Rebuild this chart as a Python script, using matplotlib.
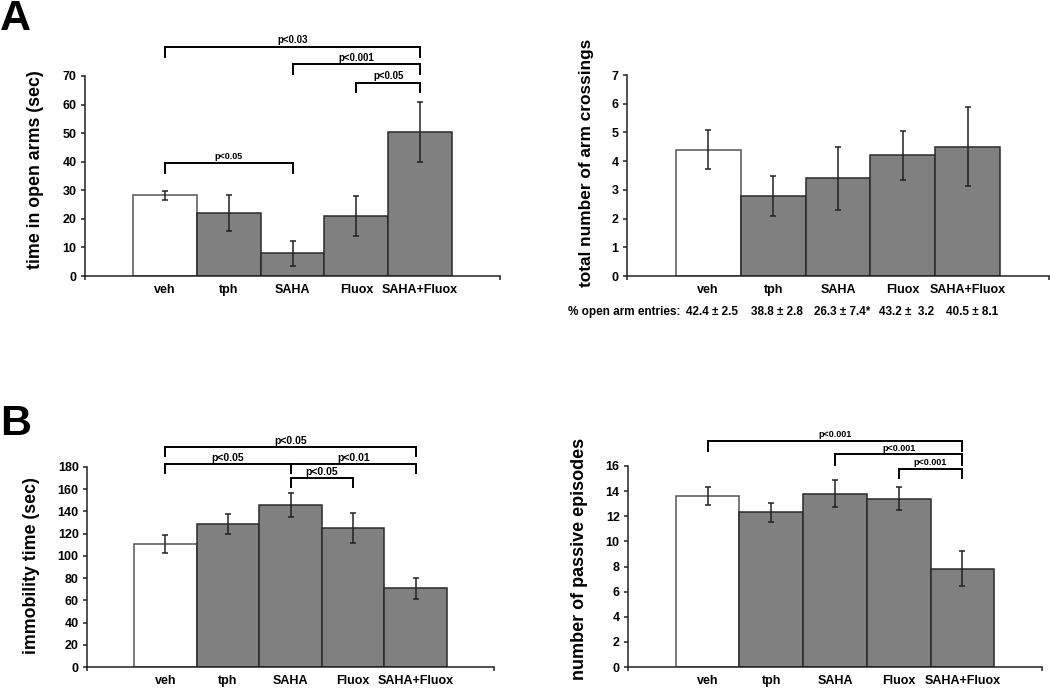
import numpy as np
import matplotlib
matplotlib.use("Agg")
import matplotlib.pyplot as plt

plt.rcParams['font.family'] = ['Liberation Sans', 'DejaVu Sans']
plt.rcParams['font.weight'] = 'bold'

groups = ["veh", "tph", "SAHA", "Fluox", "SAHA+Fluox"]

# panel A, left: time in open arms
open_time = [28.2, 22.0, 7.9, 20.9, 50.5]
open_time_err = [1.5, 6.2, 4.3, 7.0, 10.5]

# panel A, right: arm crossings
crossings = [4.40, 2.80, 3.40, 4.20, 4.50]
crossings_err = [0.68, 0.70, 1.10, 0.86, 1.38]
pct_label = "% open arm entries:"
pct_entries = ["42.4 \u00b1 2.5", "38.8 \u00b1 2.8", "26.3 \u00b1 7.4*", "43.2 \u00b1  3.2", "40.5 \u00b1 8.1"]

# panel B, left: immobility time
immobility = [111.0, 128.5, 146.0, 125.0, 70.8]
immobility_err = [8.0, 9.0, 10.6, 13.2, 9.7]

# panel B, right: passive episodes
passive = [13.63, 12.31, 13.80, 13.40, 7.84]
passive_err = [0.70, 0.73, 1.10, 0.90, 1.38]

# brackets: (group i, group j, top y, tick bottom y, text, fontsize)
brackets_a = [(0, 4, 80.2, 76.7, "p<0.03", 7),
              (2, 4, 74.2, 70.7, "p<0.001", 7),
              (3, 4, 67.6, 64.4, "p<0.05", 7),
              (0, 2, 39.6, 36.1, "p<0.05", 6.5)]
brackets_b = [(0, 4, 198, 190, "p<0.05", 7.5),
              (0, 2, 182.4, 174.3, "p<0.05", 7.5),
              (2, 4, 182.4, 174.3, "p<0.01", 7.5),
              (2, 3, 169.8, 162.3, "p<0.05", 7.5)]
brackets_c = [(0, 4, 18.0, 17.2, "p<0.001", 6.5),
              (2, 4, 16.93, 16.1, "p<0.001", 6.5),
              (3, 4, 15.8, 15.07, "p<0.001", 6.5)]

W, H = 1050, 688


def px_axes(fig, left, right, bottom, top):
    return fig.add_axes([left / W, 1 - bottom / H, (right - left) / W, (bottom - top) / H])


def bar_panel(ax, values, errs, ymax, ystep):
    x = np.arange(1, len(values) + 1)
    colors = ["white"] + ["#808080"] * (len(values) - 1)
    edges = ["#555555"] + ["#2a2a2a"] * (len(values) - 1)
    ax.bar(x, values, width=1.0, color=colors, edgecolor=edges, linewidth=1.1, zorder=2)
    ax.errorbar(x, values, yerr=errs, fmt="none", ecolor="#222222", elinewidth=1.1,
                capsize=2.5, capthick=1.1, zorder=3)
    ax.set_xlim(-0.25, 6.25)
    ax.set_ylim(0, ymax)
    ax.set_yticks(np.arange(0, ymax + ystep / 2, ystep))
    for s in ["top", "right"]:
        ax.spines[s].set_visible(False)
    for s in ["left", "bottom"]:
        ax.spines[s].set_color("#222222")
        ax.spines[s].set_linewidth(1.1)
    ax.set_xticks(x)
    ax.set_xticklabels(groups, fontsize=9, fontweight="bold")
    ax.tick_params(axis="x", which="major", length=0, pad=6)
    ax.set_xticks([-0.25, 6.25], minor=True)
    ax.tick_params(axis="x", which="minor", length=3, width=1.1, color="#222222")
    ax.tick_params(axis="y", length=3, width=1.1, color="#222222", labelsize=9, pad=3)
    for lab in ax.get_yticklabels():
        lab.set_fontweight("bold")


def add_brackets(ax, brackets):
    for i, j, ytop, ybot, txt, fs in brackets:
        xi, xj = i + 1, j + 1
        ax.plot([xi, xi, xj, xj], [ybot, ytop, ytop, ybot], color="black", lw=1.4,
                clip_on=False, solid_joinstyle="miter")
        ax.annotate(txt, xy=((xi + xj) / 2, ytop), xytext=(0, 1), textcoords="offset points",
                    ha="center", va="bottom", fontsize=fs, fontweight="bold",
                    annotation_clip=False)


fig = plt.figure(figsize=(10.5, 6.88), dpi=100)

ax1 = px_axes(fig, 85, 500, 276, 76)
bar_panel(ax1, open_time, open_time_err, 70, 10)
add_brackets(ax1, brackets_a)

ax2 = px_axes(fig, 627, 1049, 276, 75)
bar_panel(ax2, crossings, crossings_err, 7, 1)
for k, s in enumerate(pct_entries):
    ax2.text(k + 1.06, -0.18, s, transform=ax2.get_xaxis_transform(), ha="center",
             va="center", fontsize=8.5, fontweight="bold")
ax2.text(0.58, -0.18, pct_label, transform=ax2.get_xaxis_transform(), ha="right",
         va="center", fontsize=8.5, fontweight="bold")

ax3 = px_axes(fig, 87, 494, 667, 467)
bar_panel(ax3, immobility, immobility_err, 180, 20)
add_brackets(ax3, brackets_b)

ax4 = px_axes(fig, 628, 1042, 667, 466)
bar_panel(ax4, passive, passive_err, 16, 2)
add_brackets(ax4, brackets_c)

# y labels placed by pixel centre
ylabels = [("time in open arms (sec)", 36, 170, 12.8),
           ("total number of arm crossings", 586, 163, 12.4),
           ("immobility time (sec)", 32, 566, 12.8),
           ("number of passive episodes", 580, 559, 13)]
for txt, cx, cy, fs in ylabels:
    fig.text(cx / W, 1 - cy / H, txt, rotation=90, ha="center", va="center",
             fontsize=fs, fontweight="bold")

fig.text(0 / W, 1 - 19 / H, "A", fontsize=31, fontweight="bold", ha="left", va="center")
fig.text(0 / W, 1 - 424 / H, "B", fontsize=31, fontweight="bold", ha="left", va="center")

fig.savefig("out.png", dpi=100)
